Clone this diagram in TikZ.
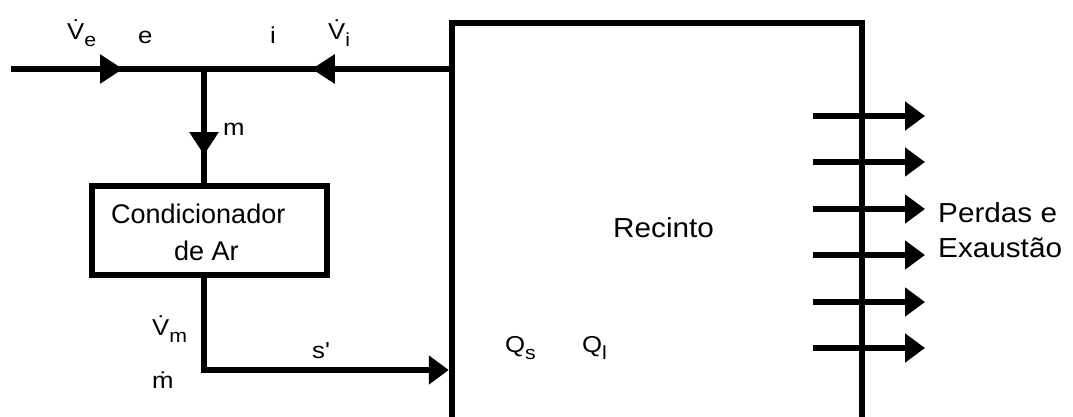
\documentclass[tikz,border=0pt]{standalone}
\usepackage{fontspec}
\setmainfont{Liberation Sans}
\newfontfamily\wfont[FakeStretch=1.08]{Liberation Sans}
\newfontfamily\lfont[FakeStretch=1.12]{Liberation Sans}
\usetikzlibrary{arrows.meta,decorations.markings}
\newcommand\sbs[1]{\raisebox{-7pt}{\fontsize{19}{19}\selectfont #1}}
\begin{document}
\begin{tikzpicture}[x=1pt,y=-1pt,
  line/.style={line width=6pt},
  tri/.style={-{Triangle[length=20pt,width=28pt]}},
  box/.style={draw,line width=6.5pt,inner sep=0pt},
  lbl/.style={font=\lfont\fontsize{23}{23}\selectfont,inner sep=0pt,anchor=base west},
  main/.style={font=\fontsize{27}{37}\selectfont,inner sep=0pt,anchor=base west},
  wide/.style={font=\wfont\fontsize{27.5}{37}\selectfont,inner sep=0pt,anchor=base west},
  midarrow/.style={postaction={decorate},decoration={markings,mark=at position #1 with {\arrow{Triangle[length=23pt,width=28pt]}}}},
]
\useasboundingbox (0,0) rectangle (1073,416);
% boxes
\node[box,minimum width=410pt,minimum height=397pt] (rec) at (657,221.5) {};
\node[wide] (rect) at (613,237) {Recinto};
\node[box,minimum width=235pt,minimum height=89pt] (cond) at (209.5,230.5) {};
\node[main] (cond1) at (111,223) {Condicionador};
\node[main] (cond2) at (174,260) {de Ar};
% coordinates
\coordinate (in) at (11,69);
\coordinate (j) at (204,69);
\coordinate (ri) at (rec.west |- in);
\coordinate (sc) at (j |- cond.south);
\coordinate (sp) at (rec.west |- 0,370);
% connectors
\draw[line,midarrow=112pt] (in) -- (j);
\draw[line,midarrow=137pt] (ri) -- (j);
\draw[line,midarrow=86pt] (j) -- (j |- cond.north);
\draw[line,tri] (sc) |- (sp);
\foreach \k/\yy in {1/116,2/162,3/209,4/255,5/302,6/348}{
  \coordinate (oa\k) at (813,\yy);
  \coordinate (ob\k) at (925,\yy);
  \draw[line,tri] (oa\k) -- (ob\k);
}
% labels
\node[lbl] (lve) at (67,39) {\.{V}\sbs{e}};
\node[lbl] (le) at (138,43) {e};
\node[lbl] (li) at (270,43) {i};
\node[lbl] (lvi) at (328,39) {\.{V}\sbs{i}};
\node[lbl] (lm) at (223,135) {m};
\node[lbl] (lvm) at (152,335) {\.{V}\sbs{m}};
\node[lbl] (lmd) at (152,388) {\.{m}};
\node[lbl] (ls) at (312,358) {s'};
\node[lbl] (lqs) at (505,352) {Q\sbs{s}};
\node[lbl] (lql) at (582,352) {Q\sbs{l}};
\node[wide] (perd1) at (938,222) {Perdas e};
\node[wide] (perd2) at (938,257) {Exaustão};
\end{tikzpicture}
\end{document}
